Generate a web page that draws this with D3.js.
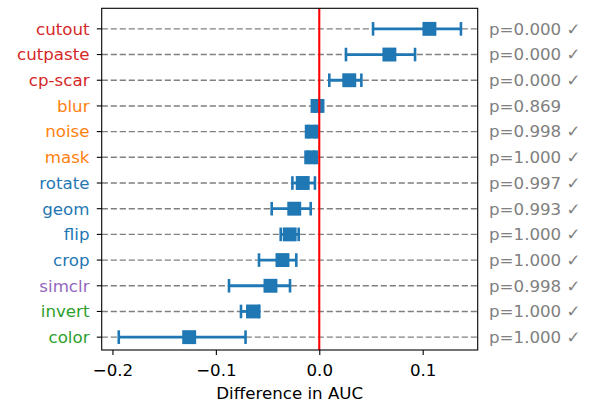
<!DOCTYPE html>
<html>
<head>
<meta charset="utf-8">
<script src="https://cdn.jsdelivr.net/npm/d3@7"></script>
<style>
  html, body { margin: 0; padding: 0; background: #fff; }
  svg { display: block; font-family: "DejaVu Sans", sans-serif; }
</style>
</head>
<body>
<svg id="chart" width="590" height="404"></svg>
<script>
const categories = ["cutout","cutpaste","cp-scar","blur","noise","mask","rotate","geom","flip","crop","simclr","invert","color"];
const groups     = ["cut","cut","cut","noise","noise","noise","geo","geo","geo","geo","simclr","color","color"];
const means = [0.1065, 0.0678, 0.029, -0.0017, -0.0073, -0.0078, -0.016, -0.0242, -0.0286, -0.0356, -0.0472, -0.0641, -0.1258];
const lower = [0.052, 0.0258, 0.0097, -0.004, -0.0105, -0.0105, -0.026, -0.046, -0.0373, -0.0583, -0.0873, -0.0757, -0.1939];
const upper = [0.137, 0.0926, 0.0407, 0.0005, -0.004, -0.005, -0.0042, -0.0083, -0.0199, -0.0222, -0.0283, -0.058, -0.0713];
const pvalues = ["0.000","0.000","0.000","0.869","0.998","1.000","0.997","0.993","1.000","1.000","0.998","1.000","1.000"];
const significant = [true,true,true,false,true,true,true,true,true,true,true,true,true];
const xTicks = [-0.2, -0.1, 0.0, 0.1];

const groupColor = {cut:"#d62728", noise:"#ff7f0e", geo:"#1f77b4", simclr:"#9467bd", color:"#2ca02c"};

const svg = d3.select("#chart");
const L = 101.7, R = 477.7, T = 8.3, B = 350;
const x = d3.scaleLinear().domain([-0.2104, 0.1532]).range([L, R]);
const y = d3.scaleLinear().domain([-0.8, 12.5]).range([T, B]);
const idx = d3.range(categories.length);
const fs = 16.67;

// grid lines
svg.append("g").selectAll("line").data(idx).join("line")
  .attr("x1", L).attr("x2", R)
  .attr("y1", i => y(i)).attr("y2", i => y(i))
  .attr("stroke", "#808080").attr("stroke-width", 1.4)
  .attr("stroke-dasharray", "6.2,2.8");

// error bars
const eb = svg.append("g").attr("stroke", "#1f77b4");
eb.selectAll("line.h").data(idx).join("line").attr("class","h")
  .attr("x1", i => x(lower[i])).attr("x2", i => x(upper[i]))
  .attr("y1", i => y(i)).attr("y2", i => y(i))
  .attr("stroke-width", 2.8);
eb.selectAll("line.cl").data(idx).join("line").attr("class","cl")
  .attr("x1", i => x(lower[i])).attr("x2", i => x(lower[i]))
  .attr("y1", i => y(i) - 6.8).attr("y2", i => y(i) + 6.8)
  .attr("stroke-width", 2.6);
eb.selectAll("line.cu").data(idx).join("line").attr("class","cu")
  .attr("x1", i => x(upper[i])).attr("x2", i => x(upper[i]))
  .attr("y1", i => y(i) - 6.8).attr("y2", i => y(i) + 6.8)
  .attr("stroke-width", 2.6);

// markers
const ms = 13.9;
svg.append("g").selectAll("rect").data(idx).join("rect")
  .attr("x", i => x(means[i]) - ms/2).attr("y", i => y(i) - ms/2)
  .attr("width", ms).attr("height", ms)
  .attr("fill", "#1f77b4");

// zero line
svg.append("line")
  .attr("x1", x(0)).attr("x2", x(0)).attr("y1", T).attr("y2", B)
  .attr("stroke", "#ff0000").attr("stroke-width", 2.1);

// frame
svg.append("rect").attr("x", L).attr("y", T).attr("width", R - L).attr("height", B - T)
  .attr("fill", "none").attr("stroke", "#000").attr("stroke-width", 1.1);

// y ticks + labels
const yt = svg.append("g");
yt.selectAll("line").data(idx).join("line")
  .attr("x1", L - 4.9).attr("x2", L).attr("y1", i => y(i)).attr("y2", i => y(i))
  .attr("stroke", "#000").attr("stroke-width", 1.1);
yt.selectAll("text").data(idx).join("text")
  .attr("x", L - 12.2).attr("y", i => y(i)).attr("dy", "0.35em")
  .attr("text-anchor", "end").attr("font-size", fs)
  .attr("fill", i => groupColor[groups[i]])
  .text(i => categories[i]);

// x axis
const xa = svg.append("g").attr("transform", `translate(0,${B})`)
  .call(d3.axisBottom(x).tickValues(xTicks).tickSize(4.9)
    .tickFormat(d => d3.format(".1f")(d).replace("-", "\u2212")));
xa.select(".domain").remove();
xa.selectAll(".tick line").attr("stroke", "#000").attr("stroke-width", 1.1);
xa.selectAll(".tick text").attr("font-size", fs).attr("font-family", "DejaVu Sans")
  .attr("fill", "#000").attr("y", 26).attr("dy", null);

svg.append("text").attr("x", (L + R) / 2).attr("y", 398.5)
  .attr("text-anchor", "middle").attr("font-size", fs).attr("fill", "#000")
  .text("Difference in AUC");

// p-values
svg.append("g").selectAll("text").data(idx).join("text")
  .attr("x", 489).attr("y", i => y(i)).attr("dy", "0.35em")
  .attr("font-size", fs).attr("fill", "#808080")
  .text(i => "p=" + pvalues[i] + (significant[i] ? " \u2713" : ""));
</script>
</body>
</html>
